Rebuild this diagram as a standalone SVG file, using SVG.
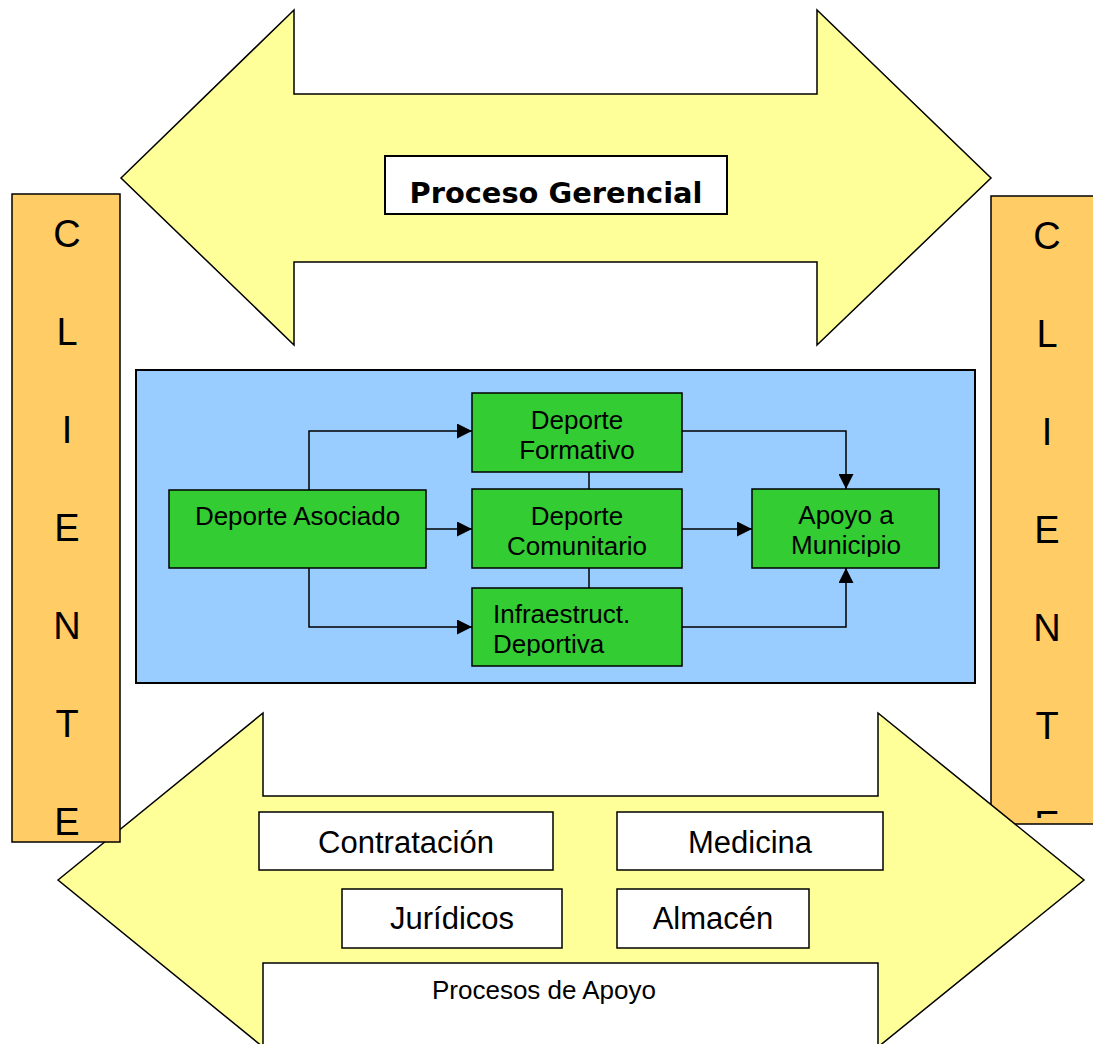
<svg xmlns="http://www.w3.org/2000/svg" width="1093" height="1044" viewBox="0 0 1093 1044">
  <style>
    .band { fill: #FFFF99; stroke: #000; stroke-width: 1.5; stroke-linejoin: miter; }
    .client { fill: #FFCC66; stroke: #000; stroke-width: 1.5; }
    .letter { font-family: "Liberation Sans", Arial, sans-serif; font-size: 38px; fill: #000; stroke: none; text-anchor: middle; }
    .core { fill: #99CCFF; stroke: #000; stroke-width: 2; }
    .proc rect { fill: #33CC33; stroke: #000; stroke-width: 1.5; }
    .proc text { font-family: "Liberation Sans", Arial, sans-serif; font-size: 26px; fill: #000; text-anchor: middle; }
    .proc text.left { text-anchor: start; }
    .support rect { fill: #FFFFFF; stroke: #000; stroke-width: 1.5; }
    .support text { font-family: "Liberation Sans", Arial, sans-serif; font-size: 31px; fill: #000; text-anchor: middle; }
    .link { fill: none; stroke: #000; stroke-width: 1.5; }
    .title { font-family: "DejaVu Sans", "Liberation Sans", sans-serif; font-weight: bold; font-size: 28px; fill: #000; text-anchor: middle; }
    .caption { font-family: "Liberation Sans", Arial, sans-serif; font-size: 26px; fill: #000; text-anchor: middle; }
  </style>
  <defs>
    <marker id="head" markerUnits="userSpaceOnUse" markerWidth="15" markerHeight="15" refX="15" refY="7.5" orient="auto">
      <path d="M0,0 L15,7.5 L0,15 Z" fill="#000"/>
    </marker>
    <clipPath id="clipRightClient">
      <rect x="991" y="196" width="110" height="622"/>
    </clipPath>
    <clipPath id="clipInfra">
      <rect x="472" y="588" width="210" height="68"/>
    </clipPath>
    <clipPath id="clipApoyo">
      <rect x="752" y="489" width="187" height="68"/>
    </clipPath>
  </defs>

  <rect width="1093" height="1044" fill="#FFFFFF"/>

  <!-- management process band -->
  <g id="proceso-gerencial">
    <polygon class="band" points="121,178 294,10 294,94 817,94 817,10 991,178 817,345 817,262 294,262 294,345"/>
    <rect x="385" y="156" width="342" height="58" fill="#FFFFFF" stroke="#000" stroke-width="2"/>
    <text class="title" x="556" y="203" textLength="293" lengthAdjust="spacingAndGlyphs">Proceso Gerencial</text>
  </g>

  <!-- client column, right -->
  <g id="cliente-derecho">
    <rect class="client" x="991" y="196" width="110" height="628"/>
    <g clip-path="url(#clipRightClient)">
      <text class="letter" x="1047" y="249">C</text>
      <text class="letter" x="1047" y="347">L</text>
      <text class="letter" x="1047" y="445">I</text>
      <text class="letter" x="1047" y="543">E</text>
      <text class="letter" x="1047" y="641">N</text>
      <text class="letter" x="1047" y="739">T</text>
      <text class="letter" x="1047" y="838">E</text>
    </g>
  </g>

  <!-- support process band -->
  <g id="procesos-apoyo">
    <polygon class="band" points="58,880 263,713 263,796 878,796 878,713 1084,880 878,1047 878,963 263,963 263,1047"/>
    <text class="caption" x="544" y="999">Procesos de Apoyo</text>
  </g>

  <g id="contratacion" class="support">
    <rect x="259" y="812" width="294" height="58"/>
    <text x="406" y="853">Contratación</text>
  </g>
  <g id="medicina" class="support">
    <rect x="617" y="812" width="266" height="58"/>
    <text x="750" y="853">Medicina</text>
  </g>
  <g id="juridicos" class="support">
    <rect x="342" y="889" width="220" height="59"/>
    <text x="452" y="929">Jurídicos</text>
  </g>
  <g id="almacen" class="support">
    <rect x="617" y="889" width="192" height="59"/>
    <text x="713" y="929">Almacén</text>
  </g>

  <!-- client column, left -->
  <g id="cliente-izquierdo">
    <rect class="client" x="12" y="194" width="108" height="648"/>
    <text class="letter" x="67" y="247">C</text>
    <text class="letter" x="67" y="345">L</text>
    <text class="letter" x="67" y="443">I</text>
    <text class="letter" x="67" y="541">E</text>
    <text class="letter" x="67" y="639">N</text>
    <text class="letter" x="67" y="737">T</text>
    <text class="letter" x="67" y="835">E</text>
  </g>

  <!-- core (mission) processes -->
  <rect id="procesos-misionales" class="core" x="136" y="370" width="839" height="313"/>

  <g id="conectores">
    <path class="link" d="M309,490 V431 H472" marker-end="url(#head)"/>
    <path class="link" d="M426,529 H472" marker-end="url(#head)"/>
    <path class="link" d="M309,568 V627 H472" marker-end="url(#head)"/>
    <path class="link" d="M589,472 V489"/>
    <path class="link" d="M589,568 V588"/>
    <path class="link" d="M682,431 H846 V489" marker-end="url(#head)"/>
    <path class="link" d="M682,529 H752" marker-end="url(#head)"/>
    <path class="link" d="M682,627 H846 V568" marker-end="url(#head)"/>
  </g>

  <g id="deporte-asociado" class="proc">
    <rect x="169" y="490" width="257" height="78"/>
    <text x="297.5" y="525">Deporte Asociado</text>
  </g>
  <g id="deporte-formativo" class="proc">
    <rect x="472" y="393" width="210" height="79"/>
    <text x="577" y="429">Deporte</text>
    <text x="577" y="459">Formativo</text>
  </g>
  <g id="deporte-comunitario" class="proc">
    <rect x="472" y="489" width="210" height="79"/>
    <text x="577" y="525">Deporte</text>
    <text x="577" y="555">Comunitario</text>
  </g>
  <g id="infraestructura" class="proc">
    <rect x="472" y="588" width="210" height="78"/>
    <g clip-path="url(#clipInfra)">
      <text class="left" x="493" y="623">Infraestruct.</text>
      <text class="left" x="493" y="653">Deportiva</text>
    </g>
  </g>
  <g id="apoyo-municipio" class="proc">
    <rect x="752" y="489" width="187" height="79"/>
    <g clip-path="url(#clipApoyo)">
      <text x="846" y="524">Apoyo a</text>
      <text x="846" y="554">Municipio</text>
    </g>
  </g>
</svg>
